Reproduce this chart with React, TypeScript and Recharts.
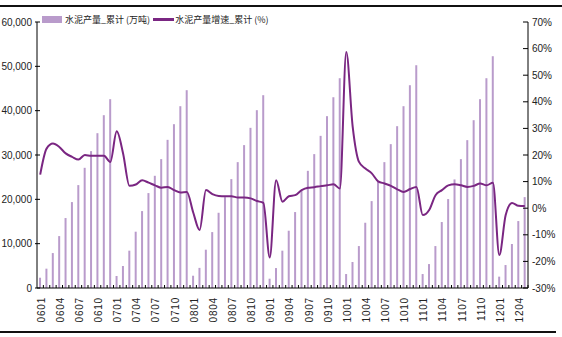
import React from 'react';
import { ComposedChart, Bar, Line, XAxis, YAxis } from 'recharts';

const categories = [
  '0601','0602','0603','0604','0605','0606','0607','0608','0609','0610','0611','0612',
  '0701','0702','0703','0704','0705','0706','0707','0708','0709','0710','0711','0712',
  '0801','0802','0803','0804','0805','0806','0807','0808','0809','0810','0811','0812',
  '0901','0902','0903','0904','0905','0906','0907','0908','0909','0910','0911','0912',
  '1001','1002','1003','1004','1005','1006','1007','1008','1009','1010','1011','1012',
  '1101','1102','1103','1104','1105','1106','1107','1108','1109','1110','1111','1112',
  '1201','1202','1203','1204','1205',
];

// 水泥产量_累计 (万吨)
const outputValues = [
  2320, 4360, 7880, 11710, 15780, 19380, 23210, 27110, 30870, 34920, 38980, 42590,
  2710, 4960, 8420, 12700, 17350, 21410, 25310, 29070, 33420, 36950, 41010, 44620,
  2770, 4540, 8640, 12610, 16970, 20500, 24560, 28390, 32230, 36130, 40110, 43490,
  2100, 4500, 8420, 12920, 17130, 22000, 26430, 30200, 34320, 38760, 43030, 47320,
  3150, 5860, 9460, 14720, 19600, 24110, 28390, 32450, 36500, 41010, 45740, 50250,
  3150, 5400, 9460, 14880, 20060, 24490, 29070, 33350, 37850, 42590, 47320, 52280,
  2560, 5180, 9920, 15100, 20500,
];

// 水泥产量增速_累计 (%)
const growthValues = [
  12.6, 22.4, 24.3, 23.0, 20.6, 19.3, 18.3, 20.0, 19.7, 19.7, 19.7, 17.4,
  28.9, 20.6, 8.4, 8.9, 10.5, 9.6, 8.6, 7.7, 8.0, 6.8, 5.9, 6.1,
  -1.6, -8.2, 6.8, 5.3, 4.6, 4.5, 4.5, 4.0, 4.0, 3.7, 2.7, 2.0,
  -18.5, 10.5, 2.4, 4.5, 4.9, 6.8, 7.7, 7.9, 8.3, 8.6, 9.0, 7.4,
  58.7, 30.8, 17.4, 14.9, 13.1, 10.1, 9.3, 8.4, 7.1, 6.1, 7.2, 8.0,
  -2.6, -0.7, 4.9, 6.8, 8.6, 9.0, 8.6, 8.0, 8.4, 9.3, 8.6, 9.6,
  -17.6, -2.6, 2.0, 0.9, 0.8,
];

const leftTicks = [0, 10000, 20000, 30000, 40000, 50000, 60000];
const rightTicks = [-30, -20, -10, 0, 10, 20, 30, 40, 50, 60, 70];

const seriesNames = ['水泥产量_累计 (万吨)', '水泥产量增速_累计 (%)'];

const data = categories.map((c, i) => ({
  cat: c,
  output: outputValues[i],
  growth: growthValues[i],
}));

const BAR_COLOR = '#B99BCB';
const LINE_COLOR = '#7A2682';
const NUM_FONT = "'Liberation Sans Narrow', 'Liberation Sans', Arial, sans-serif";
const TEXT_COLOR = '#222';

const fmtThousands = (v: number) => v.toLocaleString('en-US');

const LeftTick = (props: any) => {
  const { x, y, payload } = props;
  const axisX = x + 8;
  return (
    <g>
      <line x1={axisX - 2} x2={axisX + 3} y1={y} y2={y} stroke="#000" strokeWidth={1} />
      <text x={axisX - 5} y={y} textAnchor="end" dominantBaseline="central"
        fontFamily={NUM_FONT} fontSize={10} fill={TEXT_COLOR}>
        {fmtThousands(payload.value)}
      </text>
    </g>
  );
};

const RightTick = (props: any) => {
  const { x, y, payload } = props;
  const axisX = x - 8;
  return (
    <g>
      <line x1={axisX - 5} x2={axisX} y1={y} y2={y} stroke="#000" strokeWidth={1} />
      <text x={axisX + 4} y={y} textAnchor="start" dominantBaseline="central"
        fontFamily={NUM_FONT} fontSize={10} fill={TEXT_COLOR}>
        {payload.value + '%'}
      </text>
    </g>
  );
};

const BottomTick = (props: any) => {
  const { x, y, payload, index, width, visibleTicksCount } = props;
  const axisY = y - 8;
  const band = width && visibleTicksCount ? width / visibleTicksCount : 0;
  const tx = x + band / 2;
  const showLabel = index % 3 === 0;
  const ly = axisY + 9;
  return (
    <g>
      <line x1={tx} x2={tx} y1={axisY - 3} y2={axisY} stroke="#000" strokeWidth={1} />
      {showLabel && (
        <text x={x + 1} y={ly} transform={`rotate(-90, ${x + 1}, ${ly})`}
          textAnchor="end" dominantBaseline="central"
          fontFamily="'Liberation Sans', Arial, sans-serif" fontSize={10}
          letterSpacing={0.8} fill={TEXT_COLOR}>
          {payload.value}
        </text>
      )}
    </g>
  );
};

const Legend = () => (
  <div style={{ position: 'absolute', left: 42, top: 13, display: 'flex', alignItems: 'center',
    fontFamily: "'Noto Sans CJK SC', sans-serif", fontSize: 9, color: TEXT_COLOR, whiteSpace: 'nowrap' }}>
    <span style={{ display: 'inline-block', width: 20, height: 7, background: BAR_COLOR, marginRight: 3 }} />
    <span>{seriesNames[0]}</span>
    <span style={{ display: 'inline-block', width: 21, height: 2.5, background: LINE_COLOR, marginLeft: 3, marginRight: 1 }} />
    <span>{seriesNames[1]}</span>
  </div>
);

export default function App() {
  return (
    <div style={{ position: 'absolute', left: 0, top: 0, width: 562, height: 337, background: '#fff', overflow: 'hidden' }}>
      <div style={{ position: 'absolute', left: 0, top: 5, width: 562, height: 1.5, background: '#111' }} />
      <div style={{ position: 'absolute', left: 0, top: 331, width: 556, height: 1.5, background: '#111' }} />
      <div style={{ position: 'absolute', left: 0, top: 0 }}>
        <ComposedChart width={562} height={337} data={data}
          margin={{ top: 22, right: 0, bottom: 0, left: 0 }} barCategoryGap="32%">
          <XAxis dataKey="cat" interval={0} height={49} tickLine={false}
            axisLine={{ stroke: '#000' }} tick={<BottomTick />} />
          <YAxis yAxisId="left" orientation="left" width={37} domain={[0, 60000]}
            ticks={leftTicks} tickLine={false} axisLine={{ stroke: '#000' }}
            tick={<LeftTick />} allowDataOverflow />
          <YAxis yAxisId="right" orientation="right" width={34} domain={[-30, 70]}
            ticks={rightTicks} tickLine={false} axisLine={{ stroke: '#000' }}
            tick={<RightTick />} allowDataOverflow />
          <Bar yAxisId="left" dataKey="output" fill={BAR_COLOR} isAnimationActive={false} />
          <Line yAxisId="right" dataKey="growth" type="monotone" stroke={LINE_COLOR}
            strokeWidth={2} dot={false} isAnimationActive={false} />
        </ComposedChart>
      </div>
      <Legend />
    </div>
  );
}
